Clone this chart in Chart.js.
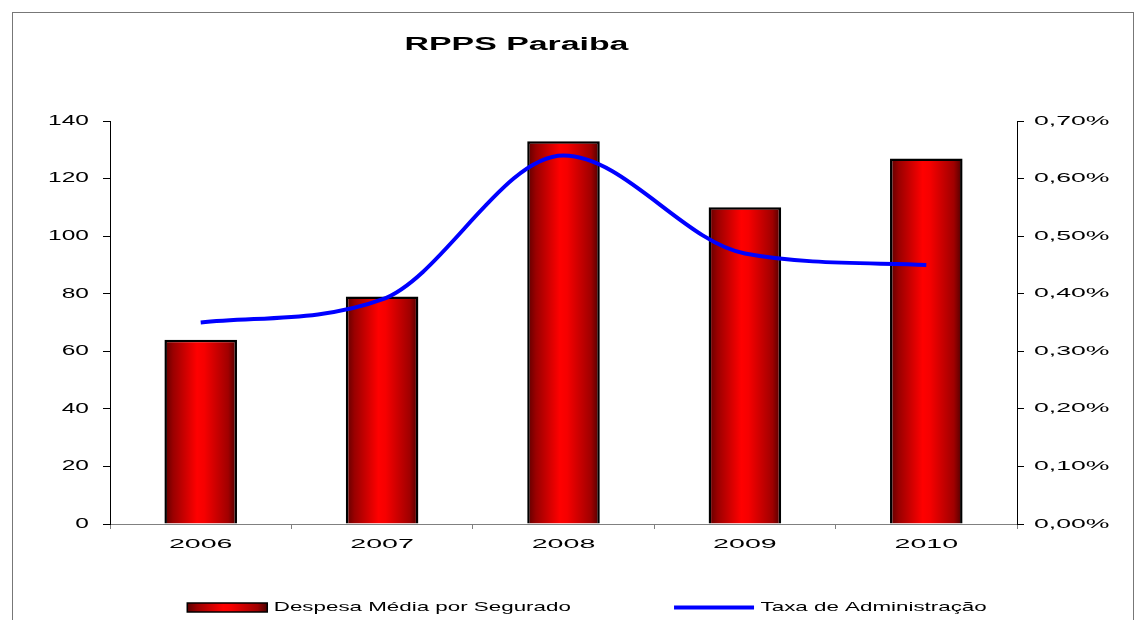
<!DOCTYPE html>
<html>
<head>
<meta charset="utf-8">
<title>RPPS Paraiba</title>
<script src="https://cdn.jsdelivr.net/npm/chart.js@4"></script>
<style>
  html, body { margin: 0; padding: 0; background: #fff; }
  #wrap { position: relative; width: 1138px; height: 620px; overflow: hidden; }
  #frame { position: absolute; left: 12px; top: 12px; width: 1120px; height: 700px; border: 1px solid #777; }
  #grafico { position: absolute; left: 0; top: 0; }
</style>
</head>
<body>
<div id="wrap">
  <div id="frame"></div>
  <canvas id="grafico" width="1138" height="620"></canvas>
</div>
<script>
// Dados
const anos = ['2006', '2007', '2008', '2009', '2010'];
const despesaMedia = [64, 79, 133, 110, 127];
const taxaAdministracao = [0.35, 0.39, 0.64, 0.47, 0.45]; // em %
const despesaTicks = [0, 20, 40, 60, 80, 100, 120, 140];
const taxaTicks = [0, 0.1, 0.2, 0.3, 0.4, 0.5, 0.6, 0.7];

const LARGURA_BARRA = 0.4;
const FONTE = "'Liberation Sans', Arial, sans-serif";

// o original tem o texto esticado na horizontal
const esticamento = { title: 1.88, x: 2.2, y: 1.75, y1: 2.05, legend: 1.72 };

function gradienteVermelho(ctx, esq, dir) {
    const g = ctx.createLinearGradient(esq, 0, dir, 0);
    g.addColorStop(0, '#5c0000');
    g.addColorStop(0.12, '#9a0000');
    g.addColorStop(0.45, '#ff0000');
    g.addColorStop(0.55, '#f60000');
    g.addColorStop(0.88, '#a00000');
    g.addColorStop(1, '#4a0000');
    return g;
}

function gradienteBarra(context) {
    const chart = context.chart;
    const x = chart.scales.x;
    if (!x || !chart.chartArea) return '#e00000';
    const centro = x.getPixelForValue(context.dataIndex);
    const meia = (x.width / anos.length) * LARGURA_BARRA / 2;
    return gradienteVermelho(chart.ctx, centro - meia, centro + meia);
}

// desenha (e mede) o texto de um componente esticado na horizontal
function esticar(obj, metodo, sx) {
    if (!obj || obj['__est_' + metodo]) return;
    const original = obj[metodo];
    obj[metodo] = function () {
        const c = this.ctx;
        const fill = c.fillText;
        const measure = c.measureText;
        c.fillText = function (t, x, y, maxW) {
            this.save();
            this.translate(x, y);
            this.scale(sx, 1);
            if (maxW === undefined) fill.call(this, t, 0, 0);
            else fill.call(this, t, 0, 0, maxW / sx);
            this.restore();
        };
        c.measureText = function (t) {
            const m = measure.call(this, t);
            return {
                width: m.width * sx,
                actualBoundingBoxAscent: m.actualBoundingBoxAscent,
                actualBoundingBoxDescent: m.actualBoundingBoxDescent
            };
        };
        try {
            return original.apply(this, arguments);
        } finally {
            delete c.fillText;
            delete c.measureText;
        }
    };
    obj['__est_' + metodo] = true;
}

const pluginTexto = {
    id: 'pluginTexto',
    beforeUpdate(chart) {
        esticar(chart.legend, 'fit', esticamento.legend);
        esticar(chart.legend, 'draw', esticamento.legend);
        esticar(chart.titleBlock, 'draw', esticamento.title);
    },
    beforeLayout(chart) {
        ['x', 'y', 'y1'].forEach(id => esticar(chart.scales[id], 'drawLabels', esticamento[id]));
    },
    afterLayout(chart) {
        // título um pouco à esquerda do centro do gráfico
        const tb = chart.titleBlock;
        const ca = chart.chartArea;
        const meia = (tb.right - tb.left) / 2;
        const cx = (ca.left + ca.right) / 2 - 47;
        tb.left = cx - meia;
        tb.right = cx + meia;
    },
    beforeDraw(chart) {
        // caixa da legenda com o mesmo degradê das barras
        const item = chart.legend.legendItems && chart.legend.legendItems[0];
        const hb = chart.legend.legendHitBoxes && chart.legend.legendHitBoxes[0];
        if (item && hb) {
            item.fillStyle = gradienteVermelho(chart.ctx, hb.left, hb.left + chart.legend.options.labels.pointStyleWidth);
        }
    }
};

new Chart(document.getElementById('grafico'), {
    type: 'bar',
    data: {
        labels: anos,
        datasets: [
            {
                type: 'bar',
                label: 'Despesa Média por Segurado',
                data: despesaMedia,
                yAxisID: 'y',
                order: 1,
                backgroundColor: gradienteBarra,
                borderColor: '#000',
                borderWidth: 2.5,
                barPercentage: LARGURA_BARRA,
                categoryPercentage: 1,
                pointStyle: 'rect'
            },
            {
                type: 'line',
                label: 'Taxa de Administração',
                data: taxaAdministracao,
                yAxisID: 'y1',
                order: 0,
                borderColor: '#0000ff',
                backgroundColor: '#0000ff',
                borderWidth: 4,
                pointRadius: 0,
                fill: false,
                cubicInterpolationMode: 'monotone',
                pointStyle: 'line'
            }
        ]
    },
    options: {
        responsive: false,
        animation: false,
        events: [],
        layout: { padding: { left: 36, right: 0, top: 0, bottom: 0 } },
        plugins: {
            tooltip: { enabled: false },
            title: {
                display: true,
                text: 'RPPS Paraiba',
                color: '#000',
                font: { family: FONTE, size: 18, weight: 'bold' },
                padding: { top: 34, bottom: 65.4 }
            },
            legend: {
                position: 'bottom',
                maxHeight: 29,
                labels: {
                    color: '#000',
                    font: { family: FONTE, size: 13 },
                    usePointStyle: true,
                    pointStyleWidth: 80,
                    boxHeight: 9,
                    padding: 10,
                    sort: (a, b) => a.datasetIndex - b.datasetIndex,
                    generateLabels(chart) {
                        const itens = Chart.defaults.plugins.legend.labels.generateLabels(chart);
                        itens.forEach(it => {
                            if (it.datasetIndex === 0) {
                                it.pointStyle = 'rect';
                                it.strokeStyle = '#000';
                                it.lineWidth = 1.5;
                                it.text += '\u00a0'.repeat(15);
                            } else {
                                it.pointStyle = 'line';
                                it.lineWidth = 4;
                            }
                        });
                        return itens;
                    }
                }
            }
        },
        scales: {
            x: {
                offset: true,
                grid: { offset: true, drawOnChartArea: false, tickLength: 5, color: '#808080' },
                border: { color: '#808080', width: 1 },
                ticks: {
                    color: '#000',
                    font: { family: FONTE, size: 13 },
                    padding: 8,
                    maxRotation: 0
                },
                afterFit: (s) => { s.height = 67; }
            },
            y: {
                position: 'left',
                min: 0,
                max: 140,
                afterBuildTicks: (s) => { s.ticks = despesaTicks.map(v => ({ value: v })); },
                grid: { drawOnChartArea: false, tickLength: 7, color: '#000' },
                border: { color: '#000', width: 1 },
                ticks: {
                    color: '#000',
                    font: { family: FONTE, size: 14 },
                    padding: 14,
                    callback: (v) => String(v)
                },
                afterFit: (s) => { s.width = 74; }
            },
            y1: {
                position: 'right',
                min: 0,
                max: 0.7,
                afterBuildTicks: (s) => { s.ticks = taxaTicks.map(v => ({ value: v })); },
                grid: { drawOnChartArea: false, tickLength: 7, color: '#000' },
                border: { color: '#000', width: 1 },
                ticks: {
                    color: '#000',
                    font: { family: FONTE, size: 13 },
                    padding: 10,
                    callback: (v) => v.toFixed(2).replace('.', ',') + '%'
                },
                afterFit: (s) => { s.width = 121; }
            }
        }
    },
    plugins: [pluginTexto]
});
</script>
</body>
</html>
